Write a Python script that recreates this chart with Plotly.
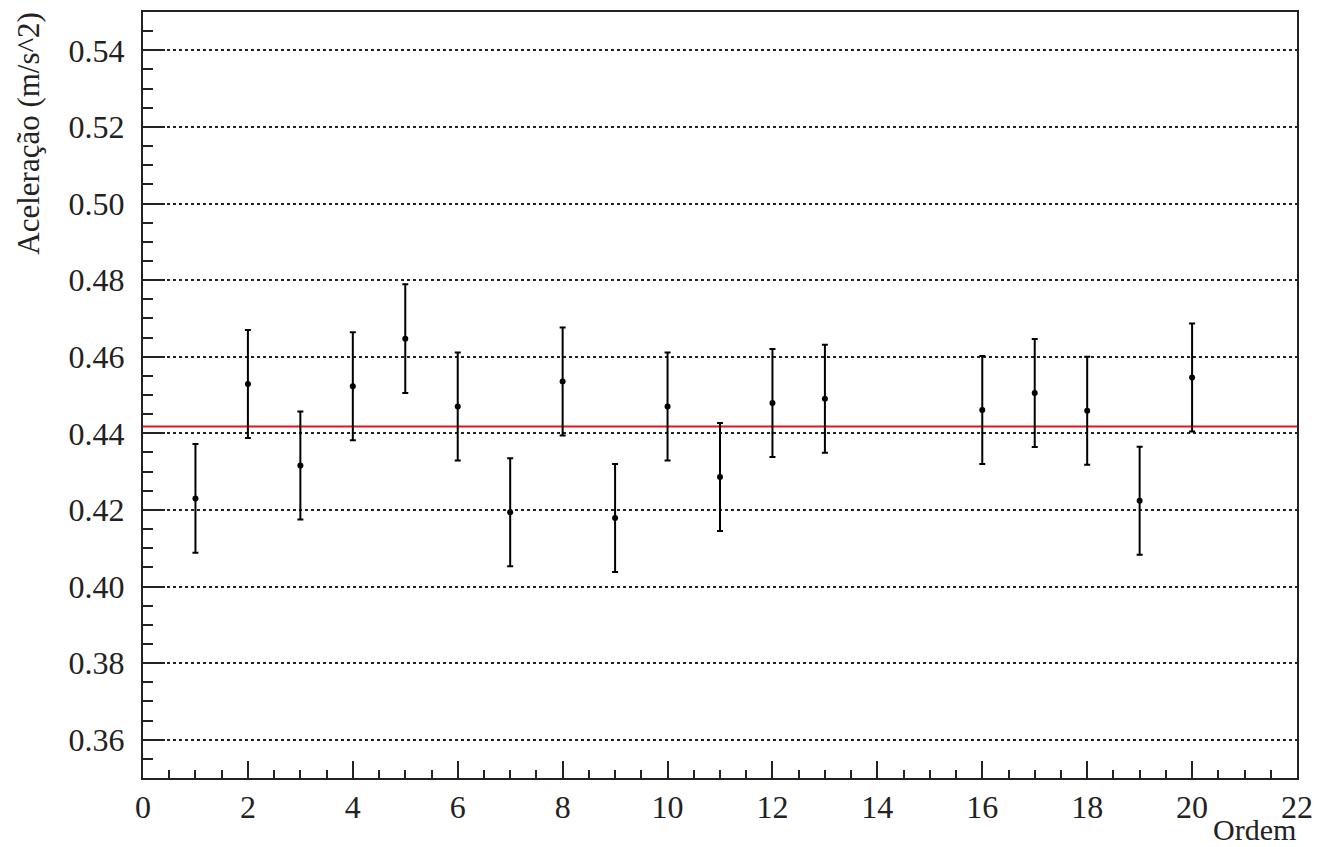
import plotly.graph_objects as go

ordem = [1, 2, 3, 4, 5, 6, 7, 8, 9, 10, 11, 12, 13, 16, 17, 18, 19, 20]
aceleracao = [0.4230, 0.4529, 0.4316, 0.4523, 0.4647, 0.4470, 0.4194, 0.4535,
              0.4179, 0.4470, 0.4286, 0.4479, 0.4490, 0.4461, 0.4505, 0.4459,
              0.4224, 0.4546]
erro = [0.0142, 0.0141, 0.0141, 0.0141, 0.0142, 0.0141, 0.0141, 0.0141,
        0.0141, 0.0141, 0.0141, 0.0141, 0.0141, 0.0141, 0.0141, 0.0141,
        0.0141, 0.0141]
media = 0.4418
x_range = [0, 22]
y_range = [0.35, 0.55]

FONT = "Liberation Serif"

fig = go.Figure()
fig.add_trace(go.Scatter(
    x=x_range, y=[media, media], mode="lines",
    line=dict(color="#e8131b", width=2), showlegend=False, hoverinfo="skip"))
fig.add_trace(go.Scatter(
    x=ordem, y=aceleracao, mode="markers",
    marker=dict(color="black", size=6),
    error_y=dict(type="data", array=erro, visible=True, color="black",
                 thickness=2, width=3),
    showlegend=False))

fig.update_layout(
    width=1323, height=847,
    margin=dict(l=143, r=21, t=10, b=69),
    paper_bgcolor="white", plot_bgcolor="white",
    font=dict(family=FONT, size=32, color="#222"),
    xaxis=dict(range=x_range, dtick=2, tick0=0, ticks="inside", ticklen=17,
               tickwidth=2, tickcolor="#222", showline=True, linecolor="#222",
               linewidth=2, mirror=True, showgrid=False, zeroline=False,
               ticklabelstandoff=0,
               minor=dict(dtick=0.5, ticks="inside", ticklen=8, tickwidth=2,
                          tickcolor="#222", showgrid=False)),
    yaxis=dict(range=y_range, dtick=0.02, tick0=0.36, tickformat=".2f",
               ticks="inside", ticklen=22, tickwidth=2, tickcolor="#222",
               showline=True, linecolor="#222", linewidth=2, mirror=True,
               showgrid=True, gridcolor="#222", gridwidth=1.5, griddash="dot",
               zeroline=False, ticklabelstandoff=10,
               minor=dict(dtick=0.005, ticks="inside", ticklen=10,
                          tickwidth=2, tickcolor="#222", showgrid=False)),
    annotations=[
        dict(text="Aceleração (m/s^2)", textangle=-90, xref="paper",
             yref="paper", x=-(143 - 28) / 1159, y=1.003, xanchor="center",
             yanchor="top", showarrow=False, font=dict(family=FONT, size=31)),
        dict(text="Ordem", xref="paper", yref="paper", x=1.0,
             y=-(847 - 778) / 768, xanchor="right", yanchor="bottom",
             borderpad=0, showarrow=False, font=dict(family=FONT, size=30)),
    ],
)

fig.write_html("out.html")
